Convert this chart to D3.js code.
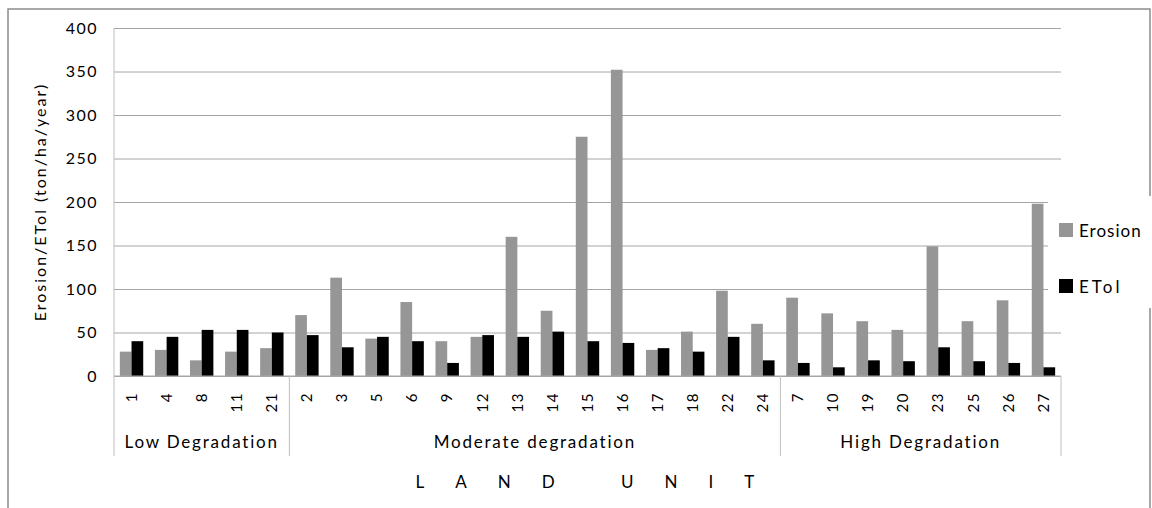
<!DOCTYPE html>
<html>
<head>
<meta charset="utf-8">
<script src="https://cdn.jsdelivr.net/npm/d3@7"></script>
<style>
  body { margin: 0; background: #fff; }
  svg { display: block; }
  text { font-family: Lato, "Noto Sans", sans-serif; fill: #000; }
</style>
</head>
<body>
<svg id="chart" width="1152" height="508"></svg>
<script>
// land units, in the order they appear on the x axis
const units = ["1", "4", "8", "11", "21", "2", "3", "5", "6", "9", "12", "13", "14", "15", "16", "17", "18", "22", "24", "7", "10", "19", "20", "23", "25", "26", "27"];
const groups = ["Low Degradation", "Moderate degradation", "High Degradation"];
const groupSizes = [5, 14, 8];
const erosion = [28, 30, 18, 28, 32, 70, 113, 43, 85, 40, 45, 160, 75, 275, 352, 30, 51, 98, 60, 90, 72, 63, 53, 149, 63, 87, 198];
const etol = [40, 45, 53, 53, 50, 47, 33, 45, 40, 15, 47, 45, 51, 40, 38, 32, 28, 45, 18, 15, 10, 18, 17, 33, 17, 15, 10];
const seriesNames = ["Erosion", "ETol"];
const seriesColors = ["#969696", "#000000"];
const yTicks = [0, 50, 100, 150, 200, 250, 300, 350, 400];

const svg = d3.select("#chart");
const margin = { left: 114, right: 1061, top: 28, bottom: 376 };
const plotW = margin.right - margin.left;

// outer chart border
svg.append("rect")
  .attr("x", 8).attr("y", 9)
  .attr("width", 1142).attr("height", 520)
  .attr("fill", "none")
  .attr("stroke", "#8c8c8c")
  .attr("stroke-width", 1.5);

// scales
const x = d3.scaleBand().domain(units).range([margin.left, margin.right]);
const xSub = d3.scaleBand().domain(seriesNames).range([x.bandwidth() / 6, x.bandwidth() * 5 / 6]);
const y = d3.scaleLinear().domain([0, 400]).range([margin.bottom, margin.top]);

// y grid + labels
const yAxis = d3.axisLeft(y).tickValues(yTicks).tickSize(-plotW).tickPadding(16);
const yg = svg.append("g")
  .attr("transform", `translate(${margin.left},0)`)
  .call(yAxis);
yg.select(".domain").remove();
yg.selectAll("line").attr("stroke", "#a6a6a6").attr("stroke-width", 1);
yg.selectAll("text")
  .style("font-size", "16px")
  .style("letter-spacing", "1.5px")
  .style("font-family", "Lato, 'Noto Sans', sans-serif")
  .attr("fill", "#000");

// bars
const rows = units.map((u, i) => ({ unit: u, values: [erosion[i], etol[i]] }));
const barGroups = svg.append("g").selectAll("g")
  .data(rows)
  .enter().append("g")
  .attr("transform", d => `translate(${x(d.unit)},0)`);
barGroups.selectAll("rect")
  .data(d => d.values.map((v, k) => ({ key: seriesNames[k], value: v, color: seriesColors[k] })))
  .enter().append("rect")
  .attr("x", d => xSub(d.key))
  .attr("width", xSub.bandwidth())
  .attr("y", d => y(d.value))
  .attr("height", d => y(0) - y(d.value))
  .attr("fill", d => d.color);

// x axis line
svg.append("line")
  .attr("x1", margin.left).attr("x2", margin.right)
  .attr("y1", y(0)).attr("y2", y(0))
  .attr("stroke", "#a6a6a6");

// unit labels (rotated)
svg.append("g").selectAll("text")
  .data(units)
  .enter().append("text")
  .attr("transform", d => `translate(${x(d) + x.bandwidth() / 2},392) rotate(-90)`)
  .attr("text-anchor", "end")
  .attr("dy", "0.35em")
  .style("font-size", "15px")
  .style("letter-spacing", "1.5px")
  .text(d => d);

// group dividers and labels
let start = 0;
const bounds = [0];
groupSizes.forEach(n => { start += n; bounds.push(start); });
const divX = i => i < units.length ? x(units[i]) : margin.right;
svg.append("g").selectAll("line")
  .data(bounds)
  .enter().append("line")
  .attr("x1", d => divX(d)).attr("x2", d => divX(d))
  .attr("y1", d => (d === 0 ? margin.top : y(0))).attr("y2", 456)
  .attr("stroke", "#bfbfbf");
svg.append("g").selectAll("text")
  .data(groups)
  .enter().append("text")
  .attr("x", (d, i) => (divX(bounds[i]) + divX(bounds[i + 1])) / 2)
  .attr("y", 448)
  .attr("text-anchor", "middle")
  .style("font-size", "17px")
  .style("letter-spacing", "1.8px")
  .text(d => d);

// x axis title
svg.append("text")
  .attr("x", (margin.left + margin.right) / 2 + 13)
  .attr("y", 488)
  .attr("text-anchor", "middle")
  .style("font-size", "17px")
  .style("letter-spacing", "31px")
  .text("LAND UNIT");

// y axis title
svg.append("text")
  .attr("transform", `translate(40,${(margin.top + margin.bottom) / 2}) rotate(-90)`)
  .attr("text-anchor", "middle")
  .attr("dy", "0.35em")
  .style("font-size", "16px")
  .style("letter-spacing", "2px")
  .text("Erosion/ETol (ton/ha/year)");

// legend
const legend = svg.append("g");
legend.append("rect")
  .attr("x", 1048).attr("y", 196)
  .attr("width", 104).attr("height", 112)
  .attr("fill", "#fff");
const items = legend.selectAll("g.item")
  .data(seriesNames)
  .enter().append("g")
  .attr("class", "item")
  .attr("transform", (d, i) => `translate(1059,${223 + i * 56})`);
items.append("rect")
  .attr("width", 14).attr("height", 14)
  .attr("fill", (d, i) => seriesColors[i]);
items.append("text")
  .attr("x", 20).attr("y", 14)
  .style("font-size", "17px")
  .style("letter-spacing", (d, i) => i === 0 ? "1px" : "3px")
  .text(d => d);
</script>
</body>
</html>
